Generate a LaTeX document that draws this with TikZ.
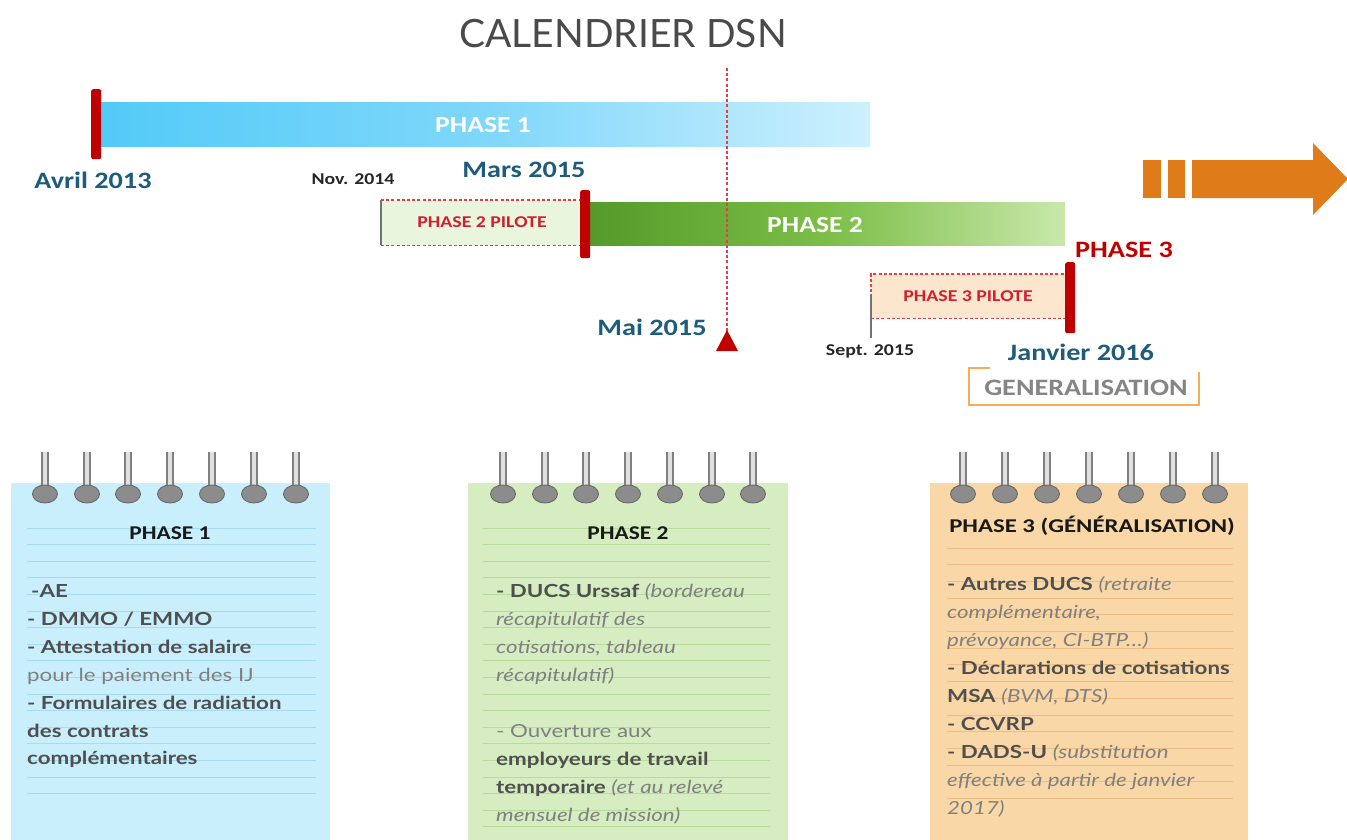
\documentclass[tikz,border=0pt]{standalone}
\usepackage{graphicx}
\usepackage{fontspec}
\setmainfont{Carlito}
\newfontfamily\gillfont{Lato}
\definecolor{markred}{HTML}{C00000}
\definecolor{tealblue}{HTML}{1F5C7C}
\definecolor{pOneL}{HTML}{52CBF7}
\definecolor{pOneM}{HTML}{7FD7FA}
\definecolor{pOneR}{HTML}{CDF0FD}
\definecolor{pTwoL}{HTML}{559A2A}
\definecolor{pTwoM}{HTML}{7CBE48}
\definecolor{pTwoR}{HTML}{C9E8AB}
\definecolor{pilTwo}{HTML}{EAF5DD}
\definecolor{pilThree}{HTML}{FCE6CE}
\definecolor{pilred}{HTML}{D02030}
\definecolor{dashred}{HTML}{E0404A}
\definecolor{arroworange}{HTML}{E07B1A}
\definecolor{genorange}{HTML}{F5AE55}
\definecolor{gengray}{HTML}{858585}
\definecolor{nbOne}{HTML}{C9EEFC}
\definecolor{nbOneLine}{HTML}{A6DCF3}
\definecolor{nbTwo}{HTML}{D5EDC1}
\definecolor{nbTwoLine}{HTML}{B8DB9C}
\definecolor{nbThree}{HTML}{FAD7A7}
\definecolor{nbThreeLine}{HTML}{ECBE85}
\definecolor{ringfill}{HTML}{8C8C8C}
\definecolor{ringdraw}{HTML}{6A6A6A}
\definecolor{nbdark}{HTML}{4F4F4F}
\definecolor{nbital}{HTML}{808080}
\definecolor{titlegray}{HTML}{4A4A4A}
\newcommand\nbB[1]{{\bfseries\color{nbdark}#1}}
\newcommand\nbI[1]{{\itshape\color{nbital}#1}}
\newcommand\nbR[1]{{\color{nbital}#1}}
\newcommand\xs[1]{\scalebox{1.2}[1]{#1}}
\newcommand\xb[1]{\scalebox{1.24}[1]{#1}}
\tikzset{
  lbl/.style={font=\bfseries\fontsize{23.5}{26}\selectfont, text=tealblue, inner sep=0pt},
  smalllbl/.style={font=\bfseries\fontsize{16.5}{18}\selectfont, text=black!85, inner sep=0pt},
  bartext/.style={font=\bfseries\fontsize{23}{26}\selectfont, text=white, inner sep=0pt},
  piltext/.style={font=\bfseries\fontsize{16.5}{18}\selectfont, text=pilred, inner sep=0pt},
  marker/.style={fill=markred, rounded corners=2pt, minimum width=10pt, inner sep=0pt, anchor=north west},
  reddash/.style={draw=dashred, line width=1.1pt, dash pattern=on 3pt off 2.2pt},
  graytick/.style={draw=black!55, line width=2pt},
  nbhead/.style={font=\bfseries\fontsize{19.5}{22}\selectfont, text=black!90, inner sep=0pt},
  nbtext/.style={font=\gillfont\fontsize{18}{20}\selectfont, inner sep=0pt, anchor=base west},
}
\begin{document}
\begin{tikzpicture}[x=1pt,y=-1pt]
\useasboundingbox (0,0) rectangle (1347,839);
\fill[white] (0,0) rectangle (1347,839);

% title
\node[font=\gillfont\fontsize{39}{42}\selectfont, text=titlegray, inner sep=0pt] (title) at (623,34) {CALENDRIER DSN};

\coordinate (maistart) at (727,68);
\coordinate (maitop) at (727,331);

% Phase 1 bar
\node[anchor=north west, minimum width=770pt, minimum height=44pt, inner sep=0pt, left color=pOneL, right color=pOneR, middle color=pOneM, draw=none] (bar1) at (100,102) {};
\node[bartext] (bar1t) at (483,125) {\xs{PHASE 1}};
\node[marker, minimum height=70pt] (m1) at (91,89) {};
\node[lbl] (avril) at (93,180) {\xs{Avril 2013}};

% Phase 2 pilote
\node[anchor=north west, minimum width=202pt, minimum height=45pt, inner sep=0pt, fill=pilTwo] (pil2) at (381,200) {};
\draw[reddash] (pil2.north west) -- (pil2.north east);
\draw[reddash] (pil2.south west) -- (pil2.south east);
\draw[graytick] (pil2.north west) -- (pil2.south west);
\node[piltext] (pil2t) at (482,222) {\xs{PHASE 2 PILOTE}};
\node[smalllbl] (nov) at (353,179) {\xs{Nov. 2014}};

% Phase 2 bar
\node[anchor=north west, minimum width=475pt, minimum height=43pt, inner sep=0pt, left color=pTwoL, right color=pTwoR, middle color=pTwoM, draw=none] (bar2) at (590,202) {};
\node[bartext] (bar2t) at (815,225) {\xs{PHASE 2}};
\node[marker, minimum height=68pt] (m2) at (580,190) {};
\node[lbl] (mars) at (524,170) {\xs{Mars 2015}};

% Phase 3 pilote
\node[anchor=north west, minimum width=197pt, minimum height=44pt, inner sep=0pt, fill=pilThree] (pil3) at (871,274) {};
\draw[reddash] (pil3.south west) -- (pil3.north west) -- (pil3.north east);
\draw[reddash] (pil3.south west) -- (pil3.south east);
\coordinate (septtop) at (871,294);
\coordinate (septbot) at (871,338);
\draw[graytick] (septtop) -- (septbot);
\node[piltext] (pil3t) at (968,296) {\xs{PHASE 3 PILOTE}};
\node[marker, minimum height=71pt] (m3) at (1065,262) {};
\node[lbl, text=markred] (ph3) at (1124,250) {\xs{PHASE 3}};
\node[smalllbl] (sept) at (870,351) {\xs{Sept. 2015}};
\node[lbl] (janv) at (1081,352) {\xs{Janvier 2016}};

% Generalisation bracket box
\node[font=\bfseries\fontsize{23.5}{26}\selectfont, text=gengray, inner sep=0pt] (gen) at (1086,388) {\xs{GENERALISATION}};
\draw[genorange, line width=1.5pt] (990,368) -- (969,368) -- (969,405) -- (1199,405) -- (1199,372);

% Mai 2015 marker
\draw[reddash] (maistart) -- (maitop);
\fill[markred] (716,351) -- (738,351) -- (727,330) -- cycle;
\node[lbl] (mai) at (652,327) {\xs{Mai 2015}};

% big arrow
\fill[arroworange] (1143,160) rectangle (1161,198);
\fill[arroworange] (1168,160) rectangle (1185,198);
\fill[arroworange] (1192,160) -- (1313,160) -- (1313,143) -- (1348,179) -- (1313,215) -- (1313,198) -- (1192,198) -- cycle;

% ---------- notebooks ----------
\node[anchor=north west, minimum width=319pt, minimum height=360pt, inner sep=0pt, fill=nbOne] (nb1) at (11,483) {};
\foreach \i in {0,...,16} \draw[nbOneLine, line width=1pt] (27,528+16.6*\i) -- (316,528+16.6*\i);
\node[anchor=north west, minimum width=320pt, minimum height=360pt, inner sep=0pt, fill=nbTwo] (nb2) at (468,483) {};
\foreach \i in {0,...,18} \draw[nbTwoLine, line width=1pt] (483,528+16.6*\i) -- (770,528+16.6*\i);
\node[anchor=north west, minimum width=318pt, minimum height=360pt, inner sep=0pt, fill=nbThree] (nb3) at (930,483) {};
\foreach \i in {0,...,15} \draw[nbThreeLine, line width=1pt] (947,548+16.7*\i) -- (1233,548+16.7*\i);

% rings
\foreach \x in {45,87,128,170,212,254,296, 503,545,586,628,670,712,753, 963,1005,1047,1089,1131,1173,1215} {
  \fill[black!12] (\x-3.4,452) rectangle (\x+3.4,490);
  \draw[black!50, line width=1.8pt] (\x-2.8,452) -- (\x-2.8,490);
  \draw[black!50, line width=1.8pt] (\x+2.8,452) -- (\x+2.8,490);
  \filldraw[fill=ringfill, draw=ringdraw, line width=0.9pt] (\x,494) ellipse (12.5pt and 9pt);
}

% NB1 text
\node[nbhead] (h1) at (170,533) {\xs{PHASE 1}};
\node[nbtext] (a1) at (31,597) {\xb{\nbB{-AE}}};
\node[nbtext] (a2) at (27,625) {\xb{\nbB{- DMMO / EMMO}}};
\node[nbtext] (a3) at (27,653) {\xb{\nbB{- Attestation de salaire}}};
\node[nbtext] (a4) at (27,681) {\xb{\nbR{pour le paiement des IJ}}};
\node[nbtext] (a5) at (27,709) {\xb{\nbB{- Formulaires de radiation}}};
\node[nbtext] (a6) at (27,737) {\xb{\nbB{des contrats}}};
\node[nbtext] (a7) at (27,764) {\xb{\nbB{complémentaires}}};

% NB2 text
\node[nbhead] (h2) at (628,533) {\xs{PHASE 2}};
\node[nbtext] (b1) at (496,597) {\xb{\nbB{- DUCS Urssaf} \nbI{(bordereau}}};
\node[nbtext] (b2) at (496,625) {\xb{\nbI{récapitulatif des}}};
\node[nbtext] (b3) at (496,653) {\xb{\nbI{cotisations, tableau}}};
\node[nbtext] (b4) at (496,681) {\xb{\nbI{récapitulatif)}}};
\node[nbtext] (b5) at (496,737) {\xb{\nbR{- Ouverture aux}}};
\node[nbtext] (b6) at (496,765) {\xb{\nbB{employeurs de travail}}};
\node[nbtext] (b7) at (496,793) {\xb{\nbB{temporaire} \nbI{(et au relevé}}};
\node[nbtext] (b8) at (496,821) {\xb{\nbI{mensuel de mission)}}};

% NB3 text
\node[nbhead] (h3) at (1092,526) {\scalebox{1.27}[1]{PHASE 3 (GÉNÉRALISATION)}};
\node[nbtext] (c1) at (947,590) {\xb{\nbB{- Autres DUCS} \nbI{(retraite}}};
\node[nbtext] (c2) at (947,618) {\xb{\nbI{complémentaire,}}};
\node[nbtext] (c3) at (947,646) {\xb{\nbI{prévoyance, CI-BTP…)}}};
\node[nbtext] (c4) at (947,674) {\xb{\nbB{- Déclarations de cotisations}}};
\node[nbtext] (c5) at (947,702) {\xb{\nbB{MSA} \nbI{(BVM, DTS)}}};
\node[nbtext] (c6) at (947,730) {\xb{\nbB{- CCVRP}}};
\node[nbtext] (c7) at (947,758) {\xb{\nbB{- DADS-U} \nbI{(substitution}}};
\node[nbtext] (c8) at (947,786) {\xb{\nbI{effective à partir de janvier}}};
\node[nbtext] (c9) at (947,814) {\xb{\nbI{2017)}}};
\end{tikzpicture}
\end{document}
